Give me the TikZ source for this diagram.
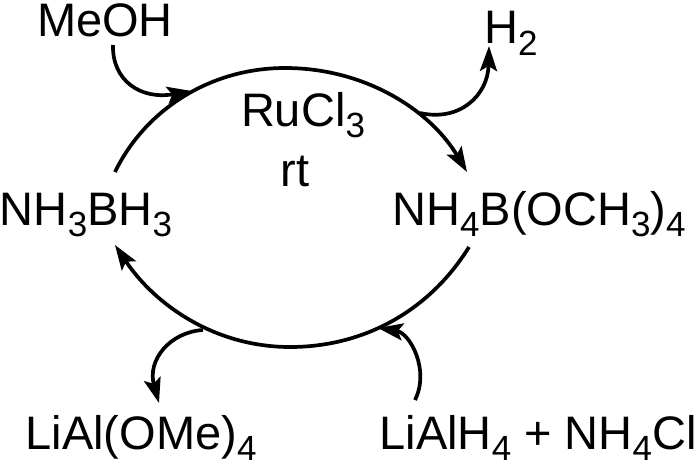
\documentclass[tikz,border=0pt]{standalone}
\usepackage{fontspec}
\setmainfont{Liberation Sans}
\usetikzlibrary{arrows.meta}
\newcommand{\sbs}[1]{\raisebox{-0.24em}{\fontsize{35}{35}\selectfont #1}}
\tikzset{lab/.style={font=\fontsize{47}{50}\selectfont,inner sep=0pt,anchor=base},
 arc/.style={line width=3.7pt,draw=black},
 tip/.style={-{Stealth[length=25pt,width=17pt,inset=5pt]}}}
\begin{document}
\begin{tikzpicture}[x=1pt,y=-1pt]
\useasboundingbox (0,0) rectangle (700,468);
\node[lab] (meoh) at (105,37) {MeOH};
\node[lab] (h2) at (511,44) {H\sbs{2}};
\node[lab] (ru) at (303,126) {RuCl\sbs{3}};
\node[lab] (rt) at (295,186) {rt};
\node[lab] (ab) at (86,225) {NH\sbs{3}BH\sbs{3}};
\node[lab] (pr) at (539,225) {NH\sbs{4}B(OCH\sbs{3})\sbs{4}};
\node[lab] (lo) at (141,449) {LiAl(OMe)\sbs{4}};
\node[lab] (li) at (538,449) {LiAlH\sbs{4} + NH\sbs{4}Cl};
\coordinate (a1) at (115,172);
\coordinate (a2) at (467,172);
\coordinate (b1) at (469,247);
\coordinate (b2) at (115,245);
\coordinate (m1) at (192,91);
\coordinate (m2) at (420,113);
\coordinate (h1) at (489,46);
\coordinate (m3) at (378,328);
\coordinate (lo1) at (203,330);
\coordinate (lo2) at (159,403);
\coordinate (mstart) at (113,45);
\coordinate (lstart) at (415,400);
\draw[arc,tip] (a1) .. controls (145,110) and (210,68) .. (285,68) .. controls (365,68) and (430,110) .. (a2);
\draw[arc,tip] (b1) .. controls (430,310) and (365,347) .. (290,347) .. controls (215,347) and (155,305) .. (b2);
\draw[arc,tip] (mstart) .. controls (112,80) and (140,100) .. (m1);
\draw[arc,tip] (m2) .. controls (460,122) and (488,95) .. (h1);
\draw[arc,tip] (lstart) .. controls (430,370) and (410,333) .. (m3);
\draw[arc,tip] (lo1) .. controls (170,332) and (147,360) .. (lo2);
\end{tikzpicture}
\end{document}
